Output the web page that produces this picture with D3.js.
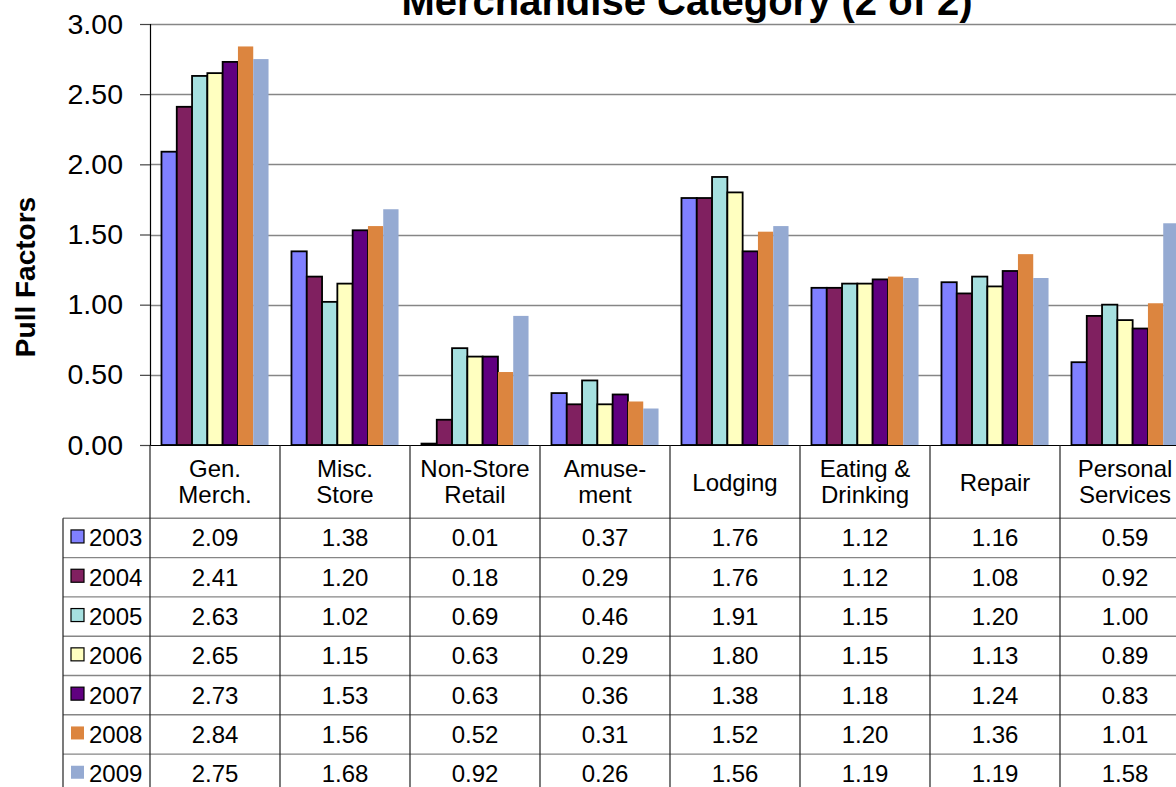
<!DOCTYPE html>
<html>
<head>
<meta charset="utf-8">
<script src="https://cdn.jsdelivr.net/npm/d3@7"></script>
<style>
  html, body { margin: 0; padding: 0; background: #fff; overflow: hidden; }
  svg { display: block; font-family: "Liberation Sans", Arial, sans-serif; }
</style>
</head>
<body>
<svg id="chart" width="1176" height="787"></svg>
<script>
// Merchandise categories (two-line header labels)
const categories = [
  ["Gen.", "Merch."],
  ["Misc.", "Store"],
  ["Non-Store", "Retail"],
  ["Amuse-", "ment"],
  ["Lodging"],
  ["Eating &", "Drinking"],
  ["Repair"],
  ["Personal", "Services"]
];

// Series years
const years = ["2003", "2004", "2005", "2006", "2007", "2008", "2009"];

// Pull factor values per year, one entry per category
const pull2003 = [2.09, 1.38, 0.01, 0.37, 1.76, 1.12, 1.16, 0.59];
const pull2004 = [2.41, 1.20, 0.18, 0.29, 1.76, 1.12, 1.08, 0.92];
const pull2005 = [2.63, 1.02, 0.69, 0.46, 1.91, 1.15, 1.20, 1.00];
const pull2006 = [2.65, 1.15, 0.63, 0.29, 1.80, 1.15, 1.13, 0.89];
const pull2007 = [2.73, 1.53, 0.63, 0.36, 1.38, 1.18, 1.24, 0.83];
const pull2008 = [2.84, 1.56, 0.52, 0.31, 1.52, 1.20, 1.36, 1.01];
const pull2009 = [2.75, 1.68, 0.92, 0.26, 1.56, 1.19, 1.19, 1.58];

// Y axis tick values
const yTicks = [0, 0.5, 1.0, 1.5, 2.0, 2.5, 3.0];

const chartTitle = "Merchandise Category (2 of 2)";
const yTitle = "Pull Factors";

// Fill colours per year, and which series get a dark outline
const fills = ["#8080FF", "#802060", "#A6E0E0", "#FFFFC0", "#600080", "#DC853F", "#95AAD2"];
const outlined = [true, true, true, true, true, false, false];

const series = [pull2003, pull2004, pull2005, pull2006, pull2007, pull2008, pull2009]
  .map((vals, i) => ({ year: years[i], values: vals, fill: fills[i], outline: outlined[i] }));

const svg = d3.select("#chart");
const FONT = "\"Liberation Sans\", Arial, sans-serif";

// Plot geometry
const plotLeft = 150, colW = 130;
const plotRight = plotLeft + colW * categories.length;
const plotTop = 24, plotBottom = 445;

const x = d3.scaleBand().domain(d3.range(categories.length)).range([plotLeft, plotRight]).padding(0);
const xInner = d3.scaleBand().domain(years).range([0, x.bandwidth()]).paddingInner(0).paddingOuter(0.75);
const y = d3.scaleLinear().domain([0, 3]).range([plotBottom, plotTop]);

// Gridlines
svg.append("g")
  .selectAll("line")
  .data(yTicks.filter(d => d > 0))
  .join("line")
  .attr("x1", plotLeft).attr("x2", plotRight)
  .attr("y1", d => Math.round(y(d)) + 0.5).attr("y2", d => Math.round(y(d)) + 0.5)
  .attr("stroke", "#868686").attr("stroke-width", 1.4);

// Bars
const groups = svg.append("g")
  .selectAll("g")
  .data(series)
  .join("g");

groups.selectAll("rect")
  .data(s => s.values.map((v, ci) => ({ v, ci, s })))
  .join("rect")
  .attr("x", d => x(d.ci) + xInner(d.s.year))
  .attr("width", xInner.bandwidth())
  .attr("y", d => y(d.v))
  .attr("height", d => y(0) - y(d.v))
  .attr("fill", d => d.s.fill)
  .attr("stroke", d => d.s.outline ? "#000" : "none")
  .attr("stroke-width", 1.8);

// Y axis
const yAxis = svg.append("g")
  .attr("transform", `translate(${plotLeft},0)`)
  .call(d3.axisLeft(y).tickValues(yTicks).tickFormat(d3.format(".2f")).tickSize(10).tickPadding(17));
yAxis.select(".domain").attr("stroke", "#000").attr("stroke-width", 1.2);
yAxis.selectAll(".tick line").attr("stroke", "#444").attr("stroke-width", 1.2);
yAxis.selectAll(".tick text")
  .attr("font-family", FONT).attr("font-size", 28.5).attr("fill", "#000");

// X axis baseline
svg.append("line")
  .attr("x1", plotLeft).attr("x2", plotRight)
  .attr("y1", plotBottom + 0.5).attr("y2", plotBottom + 0.5)
  .attr("stroke", "#000").attr("stroke-width", 1.2);

// Title
svg.append("text")
  .attr("x", 687).attr("y", 15)
  .attr("text-anchor", "middle")
  .attr("font-family", FONT).attr("font-size", 40).attr("font-weight", "bold")
  .text(chartTitle);

// Y axis title
svg.append("text")
  .attr("transform", "translate(35,277) rotate(-90)")
  .attr("text-anchor", "middle")
  .attr("font-family", FONT).attr("font-size", 28).attr("font-weight", "bold")
  .text(yTitle);

// Data table
const rowTop = 518.3, rowH = 39.3, legendLeft = 63;
const rows = d3.scaleBand().domain(years).range([rowTop, rowTop + rowH * years.length]).padding(0);
const table = svg.append("g");

// Horizontal row lines
table.selectAll("line.h")
  .data(d3.range(years.length + 1))
  .join("line")
  .attr("class", "h")
  .attr("x1", legendLeft).attr("x2", plotRight)
  .attr("y1", i => rowTop + i * rowH).attr("y2", i => rowTop + i * rowH)
  .attr("stroke", "#868686").attr("stroke-width", 1.4);

// Column dividers
table.selectAll("line.v")
  .data(d3.range(categories.length + 1))
  .join("line")
  .attr("class", "v")
  .attr("x1", i => plotLeft + i * colW).attr("x2", i => plotLeft + i * colW)
  .attr("y1", plotBottom).attr("y2", 800)
  .attr("stroke", "#222").attr("stroke-width", 1.2);

// Legend column left border
table.append("line")
  .attr("x1", legendLeft).attr("x2", legendLeft)
  .attr("y1", rowTop).attr("y2", 800)
  .attr("stroke", "#222").attr("stroke-width", 1.2);

// Category header labels
const header = table.selectAll("text.cat")
  .data(categories)
  .join("text")
  .attr("class", "cat")
  .attr("text-anchor", "middle")
  .attr("font-family", FONT).attr("font-size", 24).attr("fill", "#000")
  .attr("x", (d, i) => x(i) + x.bandwidth() / 2)
  .attr("y", d => d.length === 1 ? 491 : 477);
header.selectAll("tspan")
  .data(d => d)
  .join("tspan")
  .attr("x", function () { return d3.select(this.parentNode).attr("x"); })
  .attr("dy", (d, i) => i === 0 ? 0 : 26)
  .text(d => d);

// Legend keys and year labels
const legendRows = table.selectAll("g.row")
  .data(series)
  .join("g")
  .attr("class", "row")
  .attr("transform", d => `translate(0,${rows(d.year) + rows.bandwidth() / 2})`);

legendRows.append("rect")
  .attr("x", 71).attr("y", -8).attr("width", 13).attr("height", 13)
  .attr("fill", d => d.fill)
  .attr("stroke", d => d.outline ? "#000" : "none")
  .attr("stroke-width", 1.2);

legendRows.append("text")
  .attr("x", 89).attr("y", 8.5)
  .attr("font-family", FONT).attr("font-size", 24).attr("fill", "#000")
  .text(d => d.year);

// Values
legendRows.selectAll("text.val")
  .data(d => d.values)
  .join("text")
  .attr("class", "val")
  .attr("text-anchor", "middle")
  .attr("x", (v, i) => x(i) + x.bandwidth() / 2)
  .attr("y", 8.5)
  .attr("font-family", FONT).attr("font-size", 24).attr("fill", "#000")
  .text(v => d3.format(".2f")(v));
</script>
</body>
</html>
